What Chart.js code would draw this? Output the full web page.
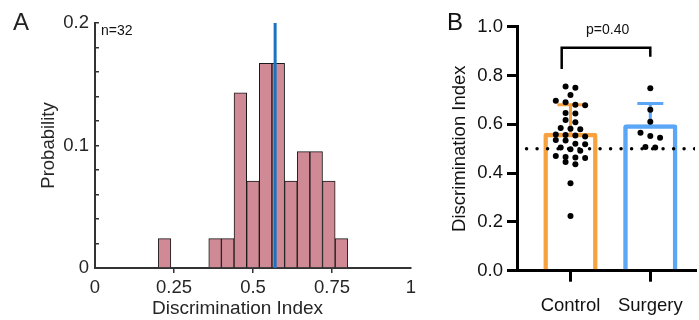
<!DOCTYPE html>
<html>
<head>
<meta charset="utf-8">
<script src="https://cdn.jsdelivr.net/npm/chart.js@4.4.1/dist/chart.umd.min.js"></script>
<style>
    body { margin: 0; background: #fff; font-family: 'Liberation Sans', Arial, sans-serif; }
    #wrap { position: relative; width: 699px; height: 320px; overflow: hidden; }
    #boxA { position: absolute; left: 0; top: 0; width: 440px; height: 320px; }
    #boxB { position: absolute; left: 440px; top: 0; width: 259px; height: 320px; }
    .lbl { position: absolute; white-space: nowrap; line-height: normal; }
</style>
</head>
<body>
<div id="wrap">
    <div id="boxA"><canvas id="chartA" width="440" height="320"></canvas></div>
    <div id="boxB"><canvas id="chartB" width="259" height="320"></canvas></div>
    <div class="lbl" style="left:13px;top:8px;font-size:24px;color:#222">A</div>
    <div class="lbl" style="left:447px;top:8px;font-size:24px;color:#111">B</div>
    <div class="lbl" style="left:101px;top:22px;font-size:14px;color:#111">n=32</div>
    <div class="lbl" style="left:586px;top:21px;font-size:14px;color:#111">p=0.40</div>
    <div class="lbl" style="left:152px;top:297px;font-size:19px;color:#262626">Discrimination Index</div>
</div>

<script>
// Panel A - histogram
const binCenters = [0.22, 0.38, 0.42, 0.46, 0.50, 0.54, 0.58, 0.62, 0.66, 0.70, 0.74, 0.78];
const binProb = [0.024, 0.024, 0.024, 0.143, 0.071, 0.167, 0.167, 0.071, 0.095, 0.095, 0.071, 0.024];
const medianDI = 0.57;
const xTicksA = [0, 0.25, 0.5, 0.75, 1];
const xLabelsA = ['0', '0.25', '0.5', '0.75', '1'];
const yTicksA = [0, 0.1, 0.2];
const yLabelsA = ['0', '0.1', '0.2'];

// Panel B - bars + individual points
const groups = ['Control', 'Surgery'];
const groupMean = [0.565, 0.60];
const groupSD = [0.115, 0.085];
const controlDI = [0.755, 0.750, 0.720, 0.697, 0.690, 0.680, 0.678, 0.646, 0.644, 0.618, 0.608,
    0.585, 0.582, 0.580, 0.558, 0.556, 0.554, 0.550, 0.536, 0.534, 0.520, 0.518, 0.505, 0.498,
    0.492, 0.470, 0.466, 0.464, 0.462, 0.445, 0.436, 0.358, 0.224];
const surgeryDI = [0.748, 0.660, 0.610, 0.565, 0.552, 0.545, 0.507, 0.505];
const yTicksB = [0, 0.2, 0.4, 0.6, 0.8, 1.0];
const chanceLevel = 0.5;

const groupColor = ['#F8A13F', '#5BA6F7'];
const FONT = "'Liberation Sans', Arial, sans-serif";
Chart.defaults.font.family = FONT;
Chart.defaults.animation = false;

// beeswarm: rows of nearby values spread sideways (x in category units)
const DOT_STEP = 10 / 81.6;
const ROW_H = 0.021;
function swarm(vals, center) {
    const sorted = vals.slice().sort((a, b) => b - a);
    const out = [];
    let row = [];
    const flush = () => {
        row.forEach((v, i) => out.push({ x: center + (i - (row.length - 1) / 2) * DOT_STEP, y: v }));
        row = [];
    };
    sorted.forEach(v => {
        if (row.length && row[0] - v > ROW_H) flush();
        row.push(v);
    });
    flush();
    return out;
}

// ---------- chart A ----------
const minorA = [];
for (let i = 0; i <= 10; i++) minorA.push(i * 2 / 100);

new Chart(document.getElementById('chartA'), {
    type: 'bar',
    data: {
        datasets: [{
            type: 'line',
            data: [{ x: medianDI, y: 0 }, { x: medianDI, y: 0.2 }],
            borderColor: '#1B72C2',
            borderWidth: 3,
            pointRadius: 0,
            order: 0
        }, {
            data: binCenters.map((c, i) => ({ x: c, y: binProb[i] })),
            backgroundColor: '#D08A96',
            borderColor: '#1a1a1a',
            borderWidth: 1,
            barPercentage: 1,
            categoryPercentage: 1,
            order: 1
        }]
    },
    options: {
        responsive: false,
        layout: { padding: { left: 0, right: 29, top: 23, bottom: 0 } },
        plugins: { legend: { display: false }, tooltip: { enabled: false } },
        scales: {
            x: {
                type: 'linear',
                min: 0, max: 1,
                offset: false,
                afterBuildTicks: s => { s.ticks = xTicksA.map(v => ({ value: v })); },
                afterFit: s => { s.height = 52; },
                grid: {
                    offset: false,
                    drawOnChartArea: false,
                    tickLength: 5,
                    lineWidth: 1.5,
                    color: c => (c.tick && c.tick.value > 0 && c.tick.value < 1) ? '#333' : 'rgba(0,0,0,0)'
                },
                border: { color: '#333', width: 2 },
                ticks: {
                    padding: 4,
                    color: '#262626',
                    font: { size: 18.5 },
                    maxRotation: 0,
                    autoSkip: false,
                    callback: (v, i) => xLabelsA[i]
                }
            },
            y: {
                min: 0, max: 0.2,
                afterBuildTicks: s => { s.ticks = minorA.map(v => ({ value: v })); },
                afterFit: s => { s.width = 95; },
                grid: { drawOnChartArea: false, tickLength: -4, lineWidth: 1.5, color: '#333' },
                border: { color: '#333', width: 2 },
                ticks: {
                    padding: 10,
                    color: '#262626',
                    font: { size: 18.5 },
                    autoSkip: false,
                    callback: v => {
                        const k = yTicksA.findIndex(t => Math.abs(t - v) < 1e-6);
                        return k >= 0 ? yLabelsA[k] : '';
                    }
                },
                title: {
                    display: true,
                    text: 'Probability',
                    color: '#262626',
                    font: { size: 18.5 },
                    padding: { top: 38, bottom: 0 }
                }
            }
        }
    }
});

// ---------- chart B ----------
const errorBars = {
    id: 'errorBars',
    beforeDatasetsDraw(chart) {
        const { ctx, scales: { x, y } } = chart;
        ctx.save();
        ctx.lineWidth = 3;
        groups.forEach((g, i) => {
            const cx = x.getPixelForValue(i);
            const y0 = y.getPixelForValue(groupMean[i]);
            const y1 = y.getPixelForValue(groupMean[i] + groupSD[i]);
            ctx.strokeStyle = groupColor[i];
            ctx.beginPath();
            ctx.moveTo(cx, y0);
            ctx.lineTo(cx, y1);
            ctx.moveTo(cx - 13, y1);
            ctx.lineTo(cx + 13, y1);
            ctx.stroke();
        });
        ctx.restore();
    }
};

// significance bracket (category units / value units)
const bracket = [{ x: -0.11, y: 0.827 }, { x: -0.11, y: 0.914 }, { x: 1, y: 0.914 }, { x: 1, y: 0.877 }];

new Chart(document.getElementById('chartB'), {
    type: 'bar',
    data: {
        datasets: [{
            type: 'scatter',
            data: swarm(controlDI, 0).concat(swarm(surgeryDI, 1)),
            pointRadius: 3,
            pointBackgroundColor: '#000',
            pointBorderWidth: 0,
            order: 0
        }, {
            type: 'line',
            data: bracket,
            borderColor: '#000',
            borderWidth: 2.5,
            borderJoinStyle: 'miter',
            pointRadius: 0,
            order: 1
        }, {
            type: 'line',
            data: [{ x: -0.55, y: chanceLevel }, { x: 1.7, y: chanceLevel }],
            borderColor: '#000',
            borderWidth: 3.5,
            borderDash: [0, 10.5],
            borderCapStyle: 'round',
            pointRadius: 0,
            order: 2
        }, {
            data: groupMean.map((m, i) => ({ x: i, y: m })),
            backgroundColor: 'rgba(255,255,255,0)',
            borderColor: groupColor,
            borderWidth: 4.5,
            borderSkipped: 'bottom',
            borderRadius: 3,
            barPercentage: 0.68,
            categoryPercentage: 1,
            order: 3
        }]
    },
    options: {
        responsive: false,
        layout: { padding: { left: 0, right: 0, top: 26.7, bottom: 0 } },
        plugins: { legend: { display: false }, tooltip: { enabled: false } },
        scales: {
            x: {
                type: 'linear',
                min: -0.67, max: 1.56,
                offset: false,
                afterBuildTicks: s => { s.ticks = groups.map((g, i) => ({ value: i })); },
                afterFit: s => { s.height = 49.3; },
                grid: { offset: false, drawOnChartArea: false, tickLength: 11, lineWidth: 3, color: '#000' },
                border: { color: '#000', width: 3 },
                ticks: {
                    padding: 13,
                    color: '#111',
                    font: { size: 18.5 },
                    maxRotation: 0,
                    autoSkip: false,
                    callback: (v, i) => groups[i]
                }
            },
            y: {
                min: 0, max: 1,
                afterBuildTicks: s => { s.ticks = yTicksB.map(v => ({ value: v })); },
                afterFit: s => { s.width = 77; },
                grid: { drawOnChartArea: false, tickLength: 10, lineWidth: 3, color: '#000' },
                border: { color: '#000', width: 3 },
                ticks: {
                    padding: 4,
                    color: '#111',
                    font: { size: 18.5 },
                    autoSkip: false,
                    callback: v => v.toFixed(1)
                },
                title: {
                    display: true,
                    text: 'Discrimination Index',
                    color: '#111',
                    font: { size: 18.5 },
                    padding: { top: 9, bottom: 0 }
                }
            }
        }
    },
    plugins: [errorBars]
});
</script>
</body>
</html>
